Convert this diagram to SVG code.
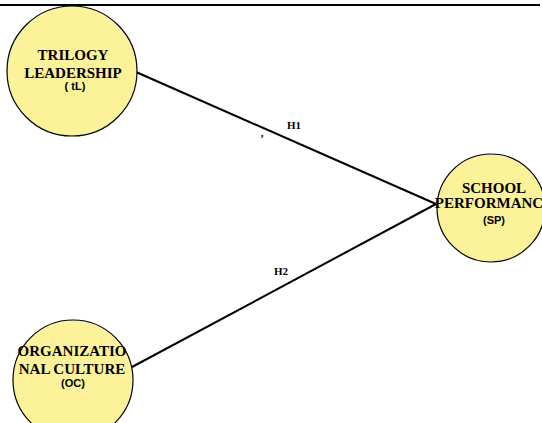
<svg xmlns="http://www.w3.org/2000/svg" width="542" height="423" viewBox="0 0 542 423">
<style>
.circ{fill:#FBF29A;stroke:#000;stroke-width:1.2}
.t{font-family:"Liberation Serif",serif;font-weight:bold;font-size:15px;fill:#000;text-anchor:middle}
.s{font-family:"Liberation Sans",sans-serif;font-weight:bold;font-size:11px;fill:#000;text-anchor:middle}
.h{font-family:"Liberation Serif",serif;font-weight:bold;font-size:11px;fill:#000;text-anchor:middle}
.c{stroke:#000;stroke-width:2;fill:none}
</style>
<rect width="542" height="423" fill="#fff"/>
<line x1="0" y1="5" x2="540" y2="5" stroke="#000" stroke-width="2"/>
<g id="connectors">
<line class="c" x1="136" y1="72" x2="436" y2="204"/>
<line class="c" x1="132" y1="367" x2="436" y2="204"/>
<text class="h" x="294" y="129">H1</text>
<text class="h" x="281" y="275">H2</text>
<text class="h" x="262" y="137">,</text>
</g>
<g id="tl">
<circle class="circ" cx="72" cy="71" r="65"/>
<text class="t" x="73" y="60">TRILOGY</text>
<text class="t" x="73" y="78">LEADERSHIP</text>
<text class="s" x="75" y="90">( tL)</text>
</g>
<g id="oc">
<circle class="circ" cx="73" cy="380" r="60"/>
<text class="t" x="72" y="356">ORGANIZATIO</text>
<text class="t" x="72" y="374">NAL CULTURE</text>
<text class="s" x="73" y="387">(OC)</text>
</g>
<g id="sp">
<circle class="circ" cx="491" cy="208" r="54"/>
<text class="t" x="494" y="193">SCHOOL</text>
<text class="t" x="494" y="208">PERFORMANCE</text>
<text class="s" x="494" y="224">(SP)</text>
</g>
</svg>
